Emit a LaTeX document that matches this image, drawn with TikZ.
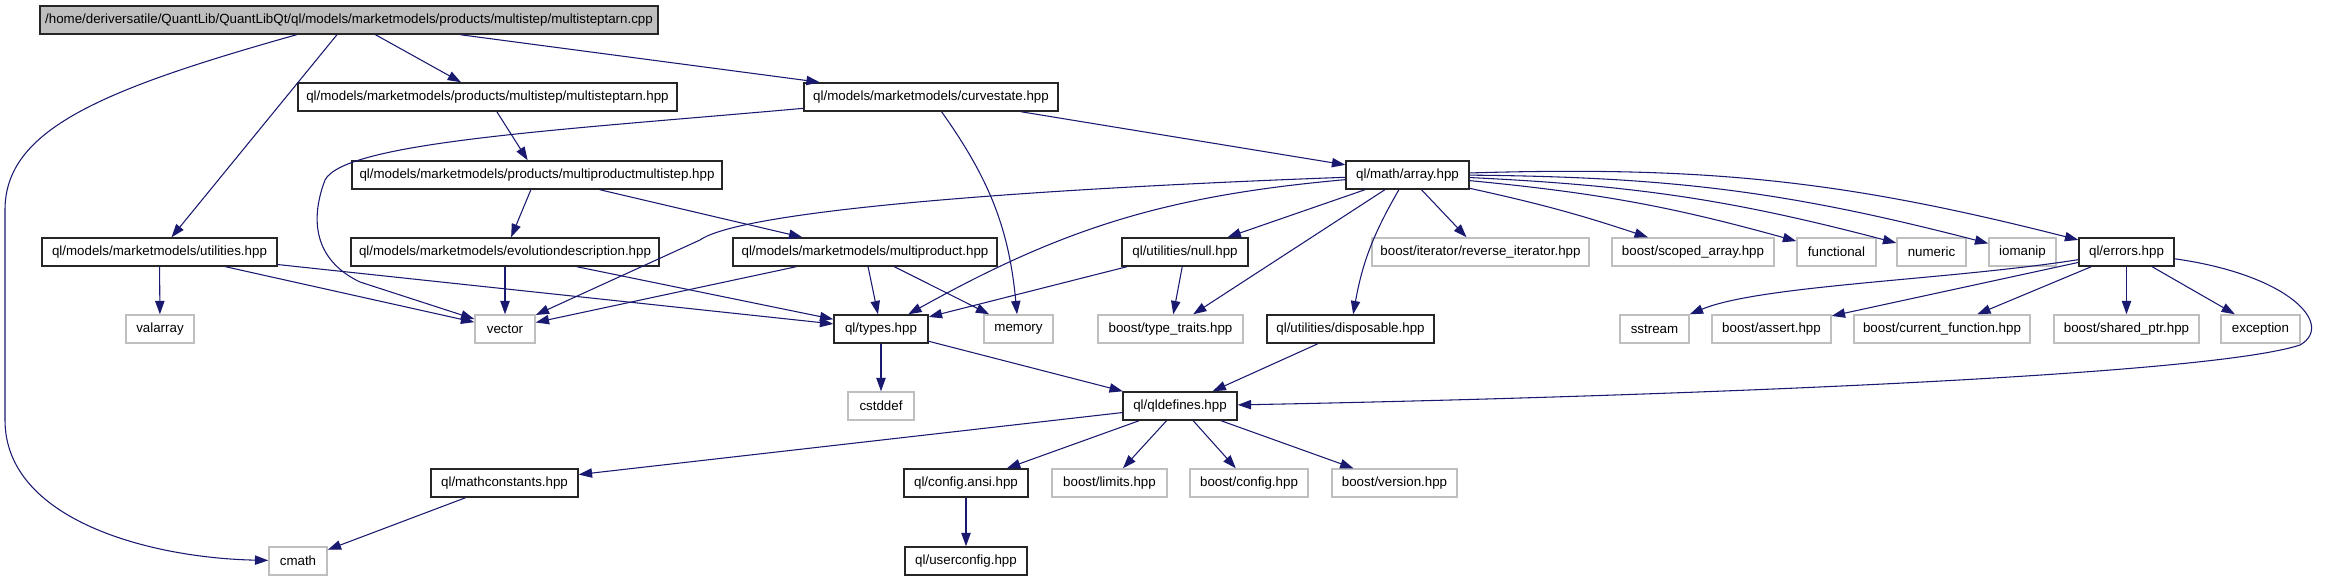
\documentclass[tikz,border=0pt]{standalone}
\usepackage{fontspec}
\setmainfont{Liberation Sans}
\usepackage{tikz}
\usetikzlibrary{arrows.meta}
\definecolor{edgeblue}{RGB}{25,25,112}
\definecolor{sysgray}{RGB}{191,191,191}

\begin{document}
\begin{tikzpicture}[x=0.75pt, y=-0.75pt, font=\fontsize{10}{12}\selectfont,
  >={Triangle[length=10pt, width=7pt]},
  box/.style={minimum height=21pt, inner sep=0pt, line width=1.1pt, minimum width=#1*0.75pt},
  hdr/.style={box=#1, draw=black!85},
  sys/.style={box=#1, draw=sysgray},
  src/.style={hdr=#1, fill=sysgray},
  dep/.style={->, draw=edgeblue, line width=0.8pt}]
  \useasboundingbox (0,0) rectangle (2328,581);
  % row 0 and 1
  \node[src=618] (root) at (349,20) {/home/deriversatile/QuantLib/QuantLibQt/ql/models/marketmodels/products/multistep/multisteptarn.cpp};
  \node[hdr=379] (tarn) at (487.5,97) {ql/models/marketmodels/products/multistep/multisteptarn.hpp};
  \node[hdr=254] (curvestate) at (931,97) {ql/models/marketmodels/curvestate.hpp};
  % row 2
  \node[hdr=370] (mpms) at (537,175) {ql/models/marketmodels/products/multiproductmultistep.hpp};
  \node[hdr=123] (array) at (1407.5,175) {ql/math/array.hpp};
  % row 3
  \node[hdr=235] (utilities) at (159.5,252) {ql/models/marketmodels/utilities.hpp};
  \node[hdr=308] (evolution) at (505,252) {ql/models/marketmodels/evolutiondescription.hpp};
  \node[hdr=264] (multiproduct) at (865,252) {ql/models/marketmodels/multiproduct.hpp};
  \node[hdr=126] (null) at (1185,252) {ql/utilities/null.hpp};
  \node[sys=217] (reverse) at (1480.5,252) {boost/iterator/reverse\_iterator.hpp};
  \node[sys=162] (scoped) at (1693,252) {boost/scoped\_array.hpp};
  \node[sys=79] (functional) at (1836.5,252) {functional};
  \node[sys=69] (numeric) at (1931.5,252) {numeric};
  \node[sys=67] (iomanip) at (2022.5,252) {iomanip};
  \node[hdr=95] (errors) at (2126.5,252) {ql/errors.hpp};
  % row 4
  \node[sys=68] (valarray) at (160,329) {valarray};
  \node[sys=60] (vector) at (505,329) {vector};
  \node[hdr=94] (types) at (881,329) {ql/types.hpp};
  \node[sys=69] (memory) at (1018.5,329) {memory};
  \node[sys=145] (typetraits) at (1170.5,329) {boost/type\_traits.hpp};
  \node[hdr=167] (disposable) at (1350.5,329) {ql/utilities/disposable.hpp};
  \node[sys=69] (sstream) at (1654.5,329) {sstream};
  \node[sys=119] (assert) at (1771.5,329) {boost/assert.hpp};
  \node[sys=176] (curfunc) at (1942,329) {boost/current\_function.hpp};
  \node[sys=145] (sharedptr) at (2126.5,329) {boost/shared\_ptr.hpp};
  \node[sys=79] (exception) at (2260.5,329) {exception};
  % rows 5 to 7
  \node[sys=66] (cstddef) at (881,406) {cstddef};
  \node[hdr=114] (qldefines) at (1180,406) {ql/qldefines.hpp};
  \node[hdr=147] (mathconst) at (504.5,483) {ql/mathconstants.hpp};
  \node[hdr=124] (configansi) at (966,483) {ql/config.ansi.hpp};
  \node[sys=115] (limits) at (1109.5,483) {boost/limits.hpp};
  \node[sys=118] (config) at (1249,483) {boost/config.hpp};
  \node[sys=125] (version) at (1394.5,483) {boost/version.hpp};
  \node[sys=58] (cmath) at (298,561) {cmath};
  \node[hdr=122] (userconfig) at (966,561) {ql/userconfig.hpp};
  % includes
  \draw[dep] (root) .. controls (100,90) and (5,130) .. (5,210) -- (5,420) .. controls (5,520) and (150,558) .. (cmath);
  \foreach \t in {utilities,tarn,curvestate} \draw[dep] (root) -- (\t);
  \draw[dep] (tarn) -- (mpms);
  \draw[dep] (curvestate) .. controls (560,130) and (345,142) .. (325,180) .. controls (308,225) and (318,262) .. (360,282) -- (vector);
  \draw[dep] (curvestate) to[bend left=15] (memory);
  \draw[dep] (curvestate) -- (array);
  \draw[dep] (mpms) -- (evolution);
  \draw[dep] (mpms) -- (multiproduct);
  \foreach \t in {valarray,vector,types} \draw[dep] (utilities) -- (\t);
  \foreach \t in {vector,types} \draw[dep] (evolution) -- (\t);
  \foreach \t in {vector,types,memory} \draw[dep] (multiproduct) -- (\t);
  \draw[dep] (array) .. controls (1000,190) and (740,212) .. (700,240) -- (vector);
  \draw[dep] (array) to[bend right=12] (types);
  \foreach \t in {null,typetraits,reverse} \draw[dep] (array) -- (\t);
  \draw[dep] (array) to[bend right=10] (disposable);
  \foreach \t/\b in {scoped/3,functional/5,numeric/6,iomanip/7,errors/8}
    \draw[dep] (array) to[bend left=\b] (\t);
  \foreach \t in {types,typetraits} \draw[dep] (null) -- (\t);
  \draw[dep] (types) -- (cstddef);
  \draw[dep] (types) -- (qldefines);
  \draw[dep] (disposable) -- (qldefines);
  \draw[dep] (errors) .. controls (1950,280) and (1760,285) .. (sstream);
  \foreach \t in {assert,curfunc,sharedptr,exception} \draw[dep] (errors) -- (\t);
  \draw[dep] (errors) .. controls (2290,275) and (2335,325) .. (2300,345) .. controls (2200,378) and (1600,398) .. (qldefines);
  \foreach \t in {mathconst,configansi,limits,config,version} \draw[dep] (qldefines) -- (\t);
  \draw[dep] (mathconst) -- (cmath);
  \draw[dep] (configansi) -- (userconfig);
\end{tikzpicture}
\end{document}
